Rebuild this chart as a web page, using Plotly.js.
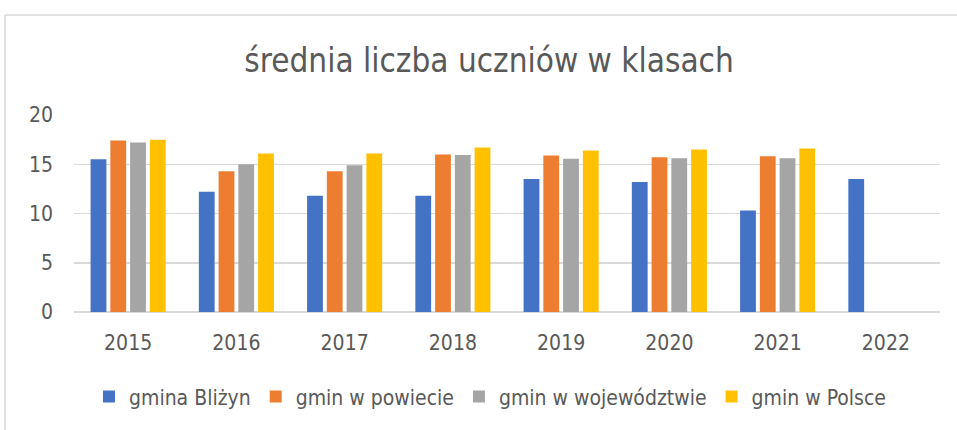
<!DOCTYPE html>
<html>
<head>
<meta charset="utf-8">
<script src="https://cdn.plot.ly/plotly-3.0.1.min.js"></script>
<style>html,body{margin:0;padding:0;background:#fff;} #chart{width:957px;height:430px;}</style>
</head>
<body>
<div id="chart"></div>
<script>
const years = ['2015','2016','2017','2018','2019','2020','2021','2022'];
const seriesNames = ['gmina Bliżyn','gmin w powiecie','gmin w województwie','gmin w Polsce'];
const gminaBlizyn = [15.5, 12.2, 11.8, 11.8, 13.5, 13.2, 10.3, 13.5];
const gminPowiat = [17.4, 14.3, 14.3, 16.0, 15.9, 15.7, 15.8, null];
const gminWojewodztwo = [17.2, 15.0, 14.9, 15.95, 15.55, 15.6, 15.6, null];
const gminPolska = [17.5, 16.1, 16.1, 16.7, 16.4, 16.5, 16.6, null];
const colors = ['#4472C4','#ED7D31','#A5A5A5','#FFC000'];
const yTicks = [0,5,10,15,20];

const font = "'Liberation Sans Narrow', 'DejaVu Sans Condensed', sans-serif";
const allSeries = [gminaBlizyn, gminPowiat, gminWojewodztwo, gminPolska];
const data = allSeries.map((vals, i) => ({
  type: 'bar', x: years, y: vals, name: seriesNames[i],
  marker: {color: colors[i], line: {width: 0}}, hoverinfo: 'x+y+name'
}));

const layout = {
  width: 957, height: 430,
  margin: {l: 74, r: 17, t: 115, b: 118},
  paper_bgcolor: '#fff', plot_bgcolor: '#fff',
  font: {family: font, color: '#595959', size: 21},
  title: {text: 'średnia liczba uczniów w klasach', font: {family: font, size: 33, color: '#595959'},
          x: 0.511, xref: 'container', xanchor: 'center', y: 0.86, yref: 'container', yanchor: 'middle'},
  barmode: 'group', bargap: 0.27, bargroupgap: 0.2,
  xaxis: {type: 'category', showgrid: false, showline: false, ticks: '', zeroline: false,
          tickfont: {size: 21, color: '#595959'}, ticklabelstandoff: 16},
  yaxis: {range: [0, 20], tickvals: yTicks, ticks: '', showline: false,
          gridcolor: '#d9d9d9', gridwidth: 1.5, zeroline: true, zerolinecolor: '#d9d9d9', zerolinewidth: 1.5,
          tickfont: {size: 21, color: '#595959'}, ticklabelstandoff: 20},
  legend: {orientation: 'h', x: 0.512, xref: 'container', xanchor: 'center', y: 0.077, yref: 'container', yanchor: 'middle',
           font: {size: 21, color: '#595959'}, itemwidth: 30, traceorder: 'normal'},
  shapes: [
    {type: 'line', xref: 'paper', yref: 'paper', x0: -0.0797, x1: 1.05, y0: 1.5076, y1: 1.5076, line: {color: '#d9d9d9', width: 1.5}},
    {type: 'line', xref: 'paper', yref: 'paper', x0: -0.0797, x1: -0.0797, y0: -0.62, y1: 1.5076, line: {color: '#d9d9d9', width: 1.5}}
  ],
  showlegend: true
};
Plotly.newPlot('chart', data, layout, {displayModeBar: false, staticPlot: true});
</script>
</body>
</html>
